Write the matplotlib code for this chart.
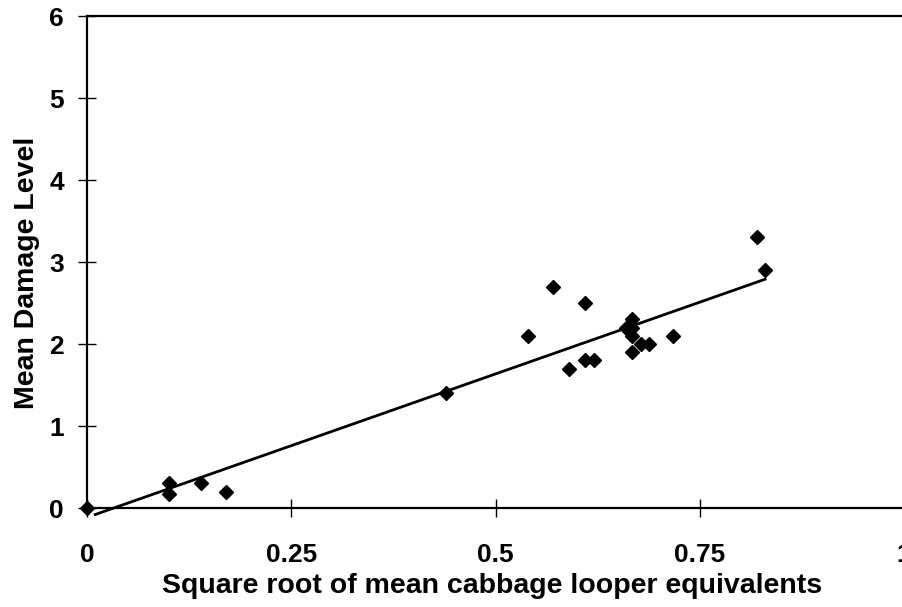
import numpy as np
import matplotlib
matplotlib.use('Agg')
import matplotlib.pyplot as plt

# sqrt of mean cabbage looper equivalents vs mean damage level
sqrt_cle = [0.0, 0.10, 0.10, 0.14, 0.17, 0.44, 0.54, 0.57, 0.59, 0.61, 0.61,
            0.62, 0.66, 0.667, 0.667, 0.667, 0.667, 0.678, 0.688, 0.717,
            0.82, 0.83]
damage = [0.0, 0.3, 0.17, 0.3, 0.2, 1.4, 2.1, 2.7, 1.7, 2.5, 1.8,
          1.8, 2.2, 2.3, 2.2, 2.1, 1.9, 2.0, 2.0, 2.1,
          3.3, 2.9]

# fitted line end points
trend_x = [0.01, 0.83]
trend_y = [-0.08, 2.79]

x_ticks = [0, 0.25, 0.5, 0.75, 1]
x_tick_labels = ['0', '0.25', '0.5', '0.75', '1']
y_ticks = [0, 1, 2, 3, 4, 5, 6]

plt.rcParams['font.family'] = ['Liberation Sans', 'DejaVu Sans']
plt.rcParams['font.weight'] = 'bold'

fig = plt.figure(figsize=(9.02, 6.07), dpi=100)
ax = fig.add_axes([87/902, 99/607, 817/902, 492/607])

ax.plot(trend_x, trend_y, color='black', lw=2, clip_on=False, zorder=2)
ax.plot(sqrt_cle, damage, linestyle='none', marker='D', markersize=6.8,
        color='black', clip_on=False, zorder=3)

ax.set_xlim(0, 1)
ax.set_ylim(0, 6)
ax.set_xticks(x_ticks)
ax.set_xticklabels(x_tick_labels)
ax.set_yticks(y_ticks)

for s in ['left', 'bottom', 'top']:
    ax.spines[s].set_linewidth(1.6)
ax.spines['right'].set_visible(False)

ax.tick_params(axis='both', direction='inout', length=13, width=1.0,
               labelsize=19)
ax.tick_params(axis='x', pad=19)
ax.tick_params(axis='y', pad=10)
for lab in ax.get_xticklabels() + ax.get_yticklabels():
    lab.set_fontweight('bold')

ax.set_xlabel('Square root of mean cabbage looper equivalents',
              fontsize=20.5, fontweight='bold')
ax.set_ylabel('Mean Damage Level', fontsize=20.5, fontweight='bold')
ax.xaxis.set_label_coords(0.496, -0.133)
ax.yaxis.set_label_coords(-0.058, 0.477)

fig.savefig('out.png', dpi=100)
